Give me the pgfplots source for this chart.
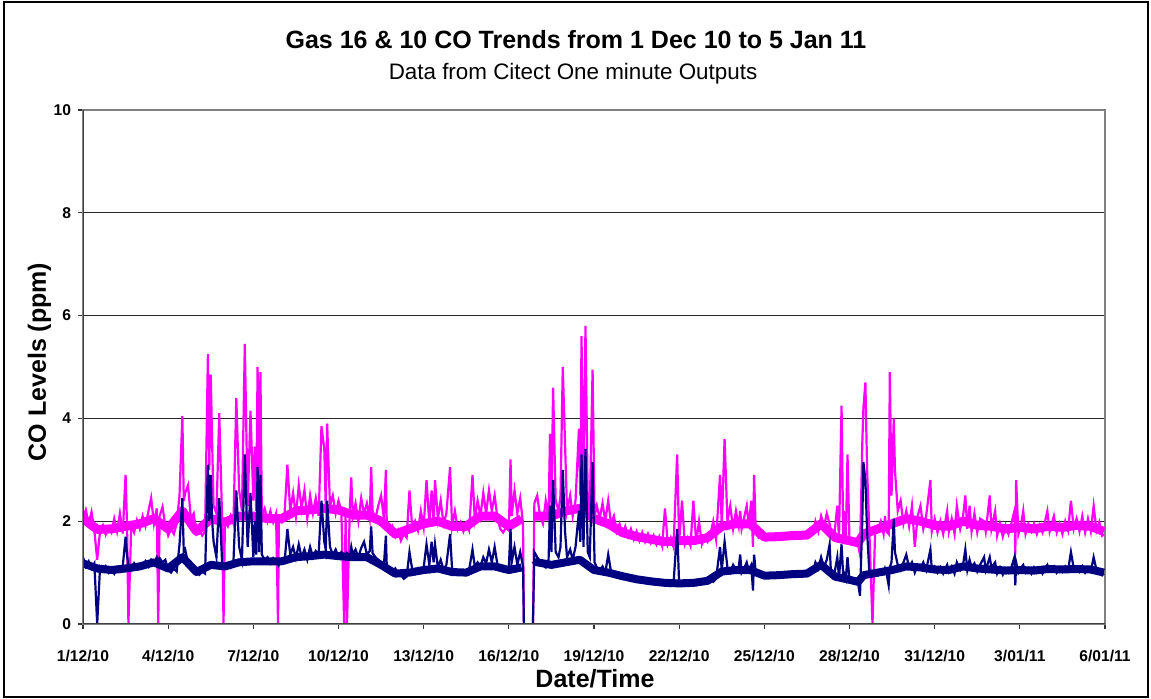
\documentclass[border=0pt]{standalone}
\usepackage{pgfplots}
\pgfplotsset{compat=1.18}
\usepackage{pgfplotstable}
\usepackage{fontspec}
\setmainfont{Liberation Sans}
\definecolor{mag}{RGB}{255,0,255}
\definecolor{nav}{RGB}{0,0,128}

\pgfplotstableread{
d m n
0.0 2.05 1.30
0.1 2.22 1.12
0.2 1.95 1.22
0.3 2.18 1.08
0.4 1.82 1.18
0.5 1.25 0.00
0.6 1.80 1.10
0.7 1.92 1.02
0.8 1.74 1.12
0.9 1.88 1.00
1.0 1.78 1.08
1.1 2.05 0.98
1.2 1.80 1.10
1.3 2.15 1.02
1.4 1.76 1.12
1.5 2.90 1.70
1.55 1.95 1.35
1.6 0.00 1.12
1.7 1.92 1.05
1.8 1.78 1.18
1.9 2.02 1.08
2.0 1.85 1.15
2.1 2.10 1.10
2.2 1.90 1.22
2.3 2.18 1.12
2.4 2.45 1.25
2.5 1.95 1.18
2.6 2.25 1.30
2.65 0.00 1.22
2.7 2.10 1.28
2.8 2.28 1.20
2.9 1.92 1.25
3.0 1.72 1.05
3.1 1.85 1.00
3.2 1.75 1.08
3.3 1.95 1.02
3.4 2.50 1.55
3.5 4.05 2.45
3.55 2.40 1.40
3.6 2.55 1.45
3.7 2.70 1.18
3.8 2.05 1.05
3.9 2.15 1.00
4.0 1.75 1.04
4.1 1.82 0.96
4.2 1.72 1.02
4.3 1.80 0.98
4.4 5.25 3.10
4.45 3.00 2.00
4.5 4.85 2.90
4.55 3.50 2.00
4.6 2.30 1.60
4.7 2.15 1.30
4.8 4.10 2.45
4.9 2.05 1.20
4.95 0.00 1.15
5.0 2.00 1.12
5.1 1.90 1.18
5.2 2.10 1.10
5.3 1.95 1.22
5.4 4.40 2.60
5.5 2.60 1.50
5.6 2.20 1.25
5.7 5.45 3.30
5.8 2.30 1.50
5.9 4.15 2.55
6.0 2.40 1.30
6.05 3.45 2.00
6.1 2.20 1.35
6.15 5.00 3.05
6.2 2.30 1.40
6.25 4.90 2.90
6.3 2.10 1.35
6.4 2.25 1.25
6.5 2.00 1.30
6.6 2.20 1.18
6.7 1.98 1.28
6.8 2.15 1.20
6.87 0.00 1.22
6.9 2.05 1.15
7.0 1.98 1.25
7.1 2.15 1.20
7.2 3.10 1.85
7.3 2.20 1.35
7.4 2.55 1.50
7.5 2.10 1.28
7.6 2.70 1.55
7.7 2.25 1.30
7.8 2.60 1.45
7.9 2.05 1.25
8.0 2.50 1.50
8.1 2.15 1.30
8.2 2.45 1.42
8.3 2.10 1.35
8.4 3.85 2.40
8.5 3.40 1.60
8.55 2.30 1.45
8.6 3.90 2.40
8.7 2.30 1.50
8.8 2.50 1.35
8.9 2.15 1.45
9.0 2.40 1.30
9.1 2.20 1.40
9.2 0.00 1.35
9.25 2.10 1.28
9.3 0.00 1.38
9.4 2.25 1.32
9.45 2.85 1.50
9.5 2.10 1.35
9.6 2.35 1.45
9.7 2.00 1.30
9.8 2.45 1.48
9.9 2.15 1.60
10.0 2.35 1.35
10.1 2.05 1.42
10.15 3.05 1.90
10.2 2.20 1.38
10.3 2.05 1.30
10.4 2.30 1.25
10.5 2.50 1.20
10.6 2.05 1.15
10.67 3.00 1.72
10.7 1.95 1.12
10.8 1.78 1.05
10.9 1.90 1.00
11.0 1.70 1.08
11.1 1.82 0.98
11.2 1.62 0.95
11.3 1.75 0.88
11.4 1.68 0.92
11.5 2.60 1.40
11.6 1.85 1.05
11.7 2.00 0.98
11.8 1.82 1.08
11.9 2.20 1.02
12.0 1.88 1.10
12.1 2.80 1.55
12.2 1.95 1.15
12.28 2.60 1.60
12.35 2.00 1.20
12.4 2.80 1.55
12.5 2.05 1.10
12.6 2.40 1.25
12.7 1.95 1.05
12.8 2.15 1.15
12.93 3.05 1.75
13.0 1.90 1.08
13.1 2.20 1.00
13.2 1.85 1.05
13.3 1.98 0.98
13.4 1.80 1.02
13.5 1.95 0.96
13.6 1.82 1.05
13.72 2.90 1.45
13.8 2.05 1.12
13.9 2.40 1.20
14.0 2.10 1.12
14.1 2.55 1.30
14.2 2.15 1.18
14.3 2.60 1.45
14.4 2.20 1.20
14.5 2.50 1.50
14.6 2.05 1.15
14.7 1.85 1.08
14.8 1.78 1.02
14.9 1.88 1.05
15.0 1.82 1.10
15.06 3.20 1.85
15.1 2.10 1.20
15.2 2.60 1.50
15.3 2.15 1.15
15.4 2.45 1.40
15.5 1.95 1.12
15.53 0.00 0.00
15.6 nan nan
15.85 0.00 0.00
15.9 2.35 1.40
16.0 2.50 1.30
16.1 2.10 1.22
16.2 1.95 1.15
16.3 2.40 1.10
16.4 2.05 1.25
16.45 3.70 2.30
16.5 2.30 1.40
16.56 4.60 2.80
16.65 2.40 1.40
16.75 2.20 1.30
16.82 2.50 1.50
16.9 5.00 3.00
16.98 3.50 1.80
17.05 2.20 1.30
17.16 2.50 1.45
17.25 2.10 1.25
17.35 2.40 1.50
17.47 3.80 2.20
17.52 2.50 1.60
17.56 5.60 3.30
17.63 2.60 1.50
17.7 5.80 3.40
17.78 2.40 1.40
17.85 2.20 1.30
17.95 4.95 3.15
18.02 2.10 1.20
18.1 2.30 1.10
18.2 2.05 1.05
18.3 2.35 1.12
18.4 2.00 1.00
18.5 2.40 1.35
18.6 1.95 1.02
18.7 2.10 0.95
18.8 1.80 1.00
18.9 1.95 0.92
19.0 1.75 0.98
19.1 1.90 0.90
19.2 1.70 0.95
19.3 1.85 0.88
19.4 1.65 0.92
19.5 1.80 0.85
19.6 1.62 0.90
19.7 1.78 0.84
19.8 1.60 0.88
19.9 1.75 0.82
20.0 1.58 0.86
20.1 1.72 0.80
20.2 1.55 0.84
20.3 1.70 0.78
20.4 1.52 0.82
20.5 2.25 0.76
20.6 1.55 0.80
20.7 1.68 0.74
20.8 1.50 0.78
20.93 3.30 1.85
21.0 1.60 0.76
21.1 2.40 0.80
21.2 1.55 0.74
21.3 1.68 0.80
21.4 1.52 0.76
21.5 2.40 0.82
21.6 1.58 0.76
21.7 2.00 0.84
21.8 1.55 0.78
21.9 1.70 0.82
22.0 1.60 0.80
22.1 1.75 0.86
22.2 2.00 0.82
22.3 1.65 0.88
22.44 2.90 1.50
22.5 1.90 1.05
22.6 3.60 1.60
22.7 2.00 1.10
22.8 2.30 1.00
22.9 1.85 1.15
23.0 2.20 1.05
23.1 1.90 1.12
23.15 2.20 1.35
23.2 1.85 1.00
23.3 2.10 1.10
23.38 2.30 1.20
23.45 1.90 1.05
23.54 2.40 1.15
23.6 1.50 0.65
23.64 2.90 1.35
23.7 1.75 1.00
23.8 1.68 0.94
23.9 1.72 0.98
24.0 1.65 0.92
24.1 1.70 0.95
24.2 1.66 0.90
24.3 1.72 0.94
24.4 1.65 0.92
24.5 1.70 0.96
24.6 1.68 0.93
24.7 1.73 0.97
24.8 1.67 0.94
24.9 1.74 0.98
25.0 1.70 0.95
25.1 1.75 0.99
25.2 1.69 0.96
25.3 1.76 1.00
25.4 1.71 0.96
25.5 1.75 0.99
25.6 1.70 0.97
25.7 1.74 1.00
25.8 2.00 1.20
25.9 1.80 1.08
26.0 2.10 1.30
26.1 1.90 1.10
26.2 2.15 1.25
26.3 1.95 1.55
26.35 1.70 0.95
26.45 1.65 0.92
26.57 2.30 1.30
26.63 1.68 0.90
26.72 4.25 1.55
26.78 1.65 0.92
26.8 2.20 1.00
26.87 1.62 0.88
26.93 3.30 1.30
27.0 1.60 0.86
27.1 1.62 0.85
27.2 1.58 0.82
27.3 1.55 0.80
27.37 1.35 0.55
27.45 3.50 2.00
27.49 4.20 3.15
27.56 4.70 2.80
27.62 3.00 1.80
27.7 1.80 1.00
27.81 0.00 0.95
27.9 1.75 1.00
28.0 1.85 0.95
28.1 2.00 1.05
28.2 1.75 0.98
28.25 2.10 1.08
28.3 1.80 1.00
28.38 1.75 0.75
28.42 4.90 1.10
28.48 2.50 1.20
28.56 4.00 2.05
28.6 3.00 1.40
28.7 2.20 1.15
28.8 2.40 1.05
28.9 1.95 1.20
29.0 2.20 1.35
29.1 1.90 1.10
29.2 2.30 1.20
29.3 1.50 1.00
29.4 2.10 1.15
29.5 2.30 1.08
29.6 1.85 1.20
29.7 2.10 1.05
29.85 2.80 1.45
29.9 1.80 1.05
30.0 2.05 1.12
30.1 1.78 1.00
30.2 2.00 1.10
30.3 1.75 0.98
30.44 2.20 1.15
30.5 1.80 1.02
30.6 2.05 1.12
30.7 1.75 0.98
30.78 2.30 1.20
30.9 1.85 1.05
31.0 2.10 1.15
31.08 2.50 1.45
31.15 1.85 1.05
31.23 2.30 1.25
31.3 1.80 1.10
31.4 2.15 1.18
31.5 1.78 1.02
31.6 2.05 1.15
31.74 2.00 1.30
31.8 1.80 1.05
31.94 2.50 1.30
32.0 1.85 1.10
32.13 2.20 1.20
32.2 1.72 0.98
32.3 1.95 1.10
32.4 1.70 0.96
32.5 1.92 1.08
32.6 1.75 1.00
32.7 1.95 1.10
32.81 2.20 1.30
32.84 1.35 0.75
32.87 2.80 1.20
32.95 1.75 1.00
33.05 1.95 1.10
33.12 2.20 1.15
33.2 1.75 1.00
33.3 1.95 1.08
33.41 1.80 0.98
33.5 1.95 1.10
33.6 1.75 1.00
33.7 1.92 1.08
33.8 1.78 0.98
33.97 2.20 1.15
34.05 1.80 1.05
34.2 2.10 1.12
34.3 1.78 1.00
34.4 1.95 1.10
34.5 1.75 1.02
34.6 2.00 1.12
34.7 1.82 1.05
34.8 2.40 1.40
34.9 1.85 1.08
35.0 2.05 1.12
35.1 1.80 1.02
35.2 2.10 1.12
35.3 1.78 1.00
35.4 2.05 1.10
35.5 1.80 1.02
35.6 2.30 1.30
35.7 1.82 1.05
35.8 1.98 1.00
35.9 1.72 0.95
35.96 1.75 0.98
}\codata

% core of the dense one-minute band, read every half day
\pgfplotstableread{
d m n
0.0 2.05 1.18
0.5 1.84 1.08
1.0 1.85 1.05
1.5 1.90 1.08
2.0 1.95 1.12
2.5 2.05 1.20
3.0 1.85 1.08
3.5 2.20 1.30
4.0 1.80 1.01
4.5 2.05 1.15
5.0 1.98 1.12
5.5 2.10 1.20
6.0 2.10 1.22
6.5 2.05 1.22
7.0 2.05 1.22
7.5 2.20 1.30
8.0 2.22 1.32
8.5 2.25 1.35
9.0 2.22 1.32
9.5 2.12 1.30
10.0 2.12 1.30
10.5 2.00 1.15
11.0 1.75 0.98
11.5 1.85 1.00
12.0 1.95 1.05
12.5 2.00 1.08
13.0 1.90 1.01
13.5 1.90 1.00
14.0 2.10 1.12
14.5 2.10 1.12
15.0 1.90 1.05
15.45 2.05 1.10
15.6 nan nan
15.9 2.10 1.25
16.0 2.10 1.20
16.5 2.10 1.15
17.0 2.20 1.20
17.5 2.25 1.25
18.0 2.05 1.05
18.5 1.95 1.00
19.0 1.78 0.93
19.5 1.70 0.87
20.0 1.65 0.83
20.5 1.60 0.80
21.0 1.62 0.79
21.5 1.62 0.80
22.0 1.68 0.84
22.5 1.90 1.02
23.0 1.95 1.05
23.5 1.95 1.05
24.0 1.69 0.94
24.5 1.70 0.95
25.0 1.72 0.97
25.5 1.73 0.98
26.0 1.95 1.15
26.5 1.68 0.92
27.0 1.62 0.86
27.3 1.58 0.82
27.5 1.75 0.95
28.0 1.85 1.00
28.5 1.95 1.05
29.0 2.05 1.12
29.5 2.00 1.10
30.0 1.92 1.06
30.5 1.90 1.05
31.0 2.00 1.12
31.5 1.92 1.08
32.0 1.90 1.06
32.5 1.85 1.04
33.0 1.88 1.05
33.5 1.85 1.04
34.0 1.90 1.07
34.5 1.88 1.06
35.0 1.92 1.07
35.5 1.90 1.06
35.96 1.80 1.00
}\coband

\begin{document}
\begin{tikzpicture}
\begin{axis}[at={(0,0)}, anchor=south west, scale only axis,
  width=511pt, height=257pt,
  xmin=0, xmax=36, ymin=0, ymax=10,
  xtick={0,3,...,36},
  xticklabels={1/12/10,4/12/10,7/12/10,10/12/10,13/12/10,16/12/10,19/12/10,22/12/10,25/12/10,28/12/10,31/12/10,3/01/11,6/01/11},
  ytick={0,2,...,10},
  tick pos=left, tick align=outside, major tick length=2.5pt,
  tick style={black!80, line width=0.6pt},
  ymajorgrids, major grid style={black!85, line width=0.5pt},
  axis line style={draw=black!50, line width=0.6pt},
  ticklabel style={font=\bfseries\fontsize{7.8}{9}\selectfont},
  xticklabel style={yshift=-7pt},
  yticklabel style={xshift=0pt},
  /pgf/number format/assume math mode=true,
  unbounded coords=jump,
]
\addplot[mag, line width=4.5pt, line join=round] table[x=d,y=m]{\coband};
\addplot[mag, line width=1.1pt] table[x=d,y=m]{\codata};
\addplot[nav, line width=4.0pt, line join=round] table[x=d,y=n]{\coband};
\addplot[nav, line width=1.1pt] table[x=d,y=n]{\codata};
\draw[black!75, line width=0.7pt] (rel axis cs:0,0) -- (rel axis cs:0,1);
\draw[black!75, line width=0.7pt] (rel axis cs:0,0) -- (rel axis cs:1,0);
\end{axis}
\node[font=\bfseries\fontsize{12.5}{15}\selectfont, anchor=base] at (246.5pt,287.5pt) {Gas 16 \& 10 CO Trends from 1 Dec 10 to 5 Jan 11};
\node[font=\fontsize{11.2}{13}\selectfont, anchor=base] at (245pt,272pt) {Data from Citect One minute Outputs};
\node[font=\bfseries\fontsize{12.5}{15}\selectfont, anchor=base] at (256pt,-32pt) {Date/Time};
\node[font=\bfseries\fontsize{12.5}{15}\selectfont, anchor=base, rotate=90] at (-18.5pt,131pt) {CO Levels (ppm)};
\draw[black, line width=0.9pt] (-39.5pt,-36.5pt) rectangle (532.5pt,311pt);
\pgfresetboundingbox
\useasboundingbox (-41.5pt,-37.5pt) rectangle (534pt,312pt);
\end{tikzpicture}
\end{document}
